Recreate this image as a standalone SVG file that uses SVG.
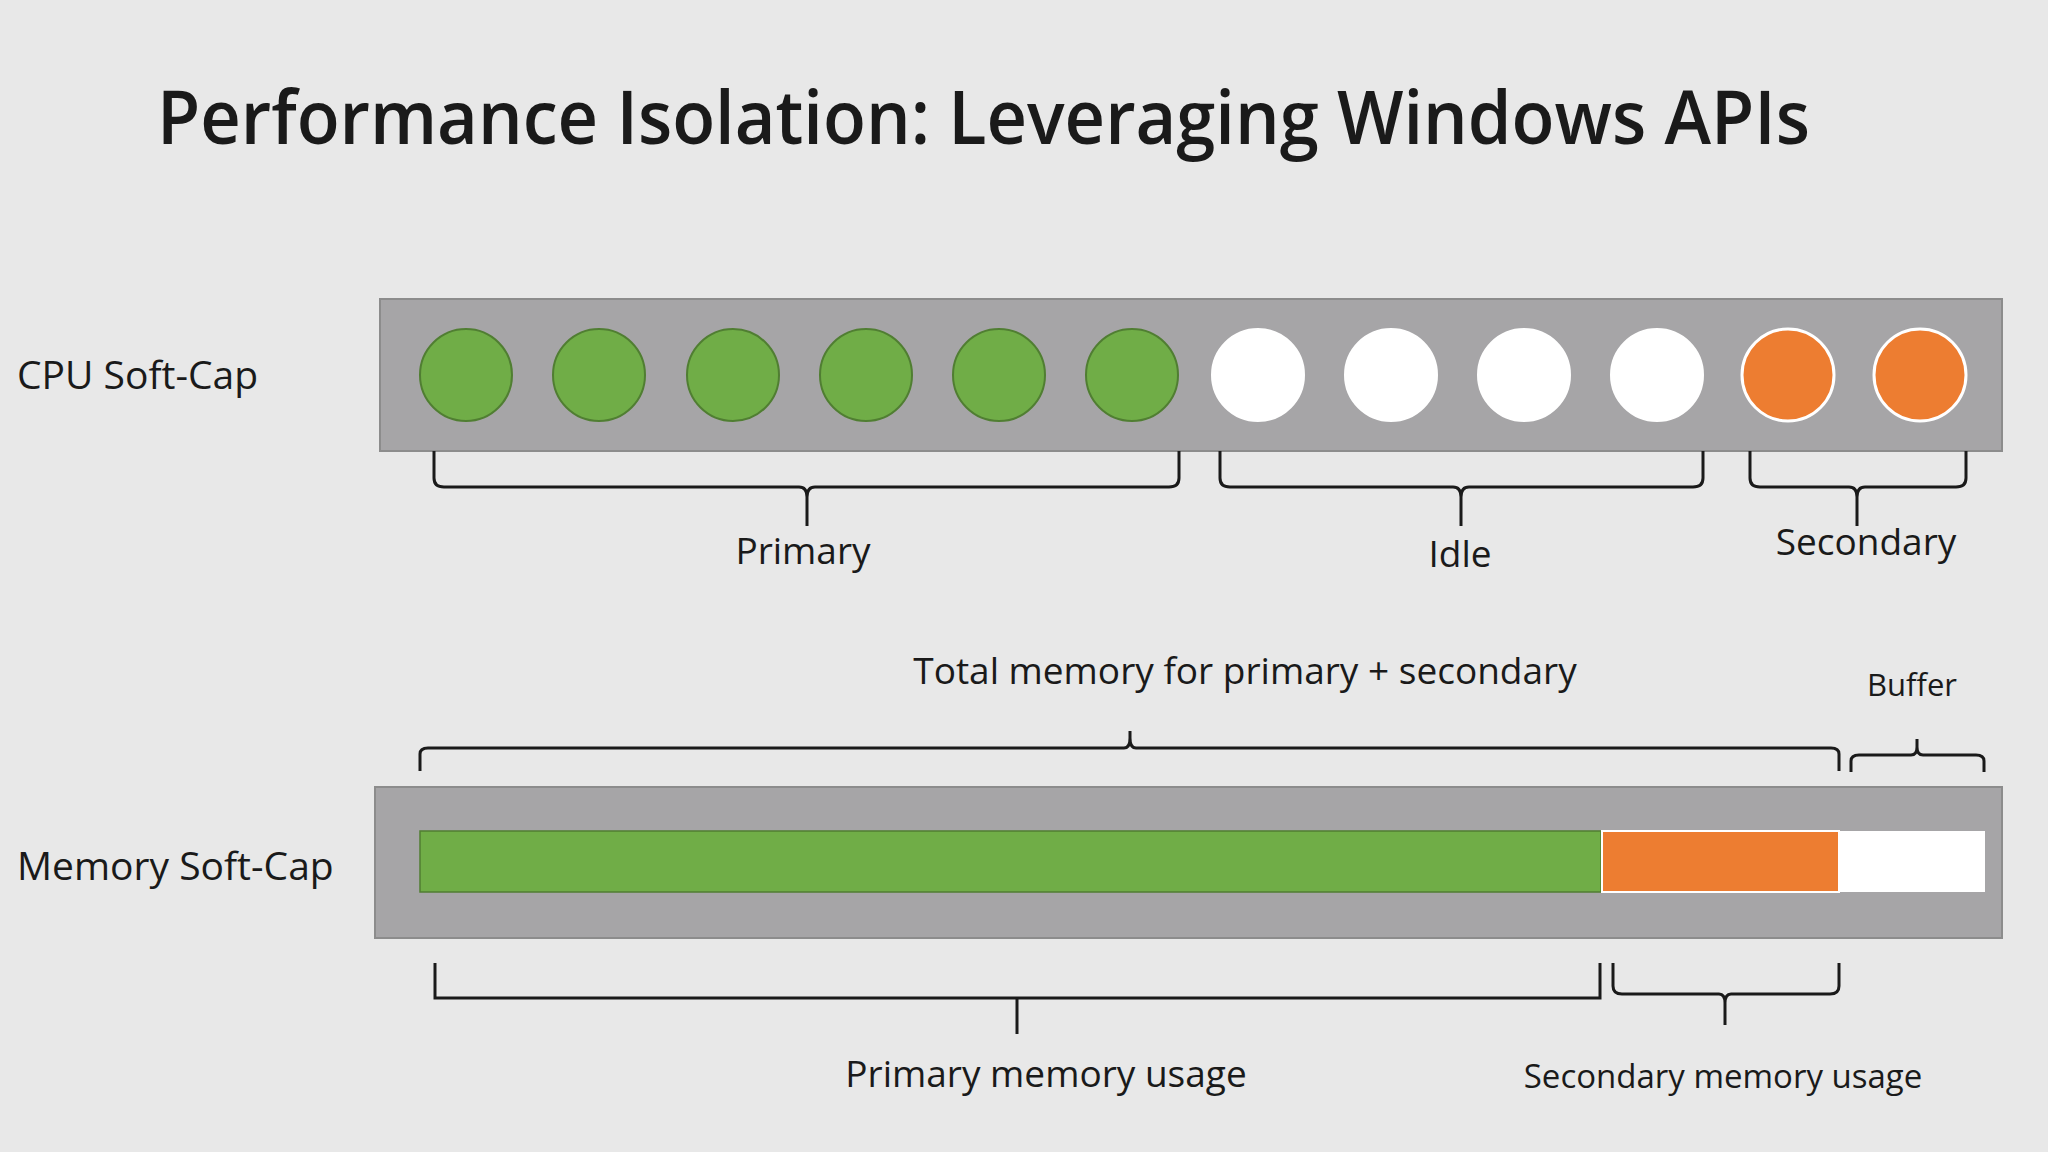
<svg xmlns="http://www.w3.org/2000/svg" width="2048" height="1152" viewBox="0 0 2048 1152">
<style>
text{font-family:"Open Sans","Noto Sans","Liberation Sans",sans-serif;fill:#1a1a1a}
.bar{fill:#a6a5a7;stroke:#8c8c8c;stroke-width:2}
.g{fill:#70ad47;stroke:#507e32;stroke-width:2}
.w{fill:#fff;stroke:#fff;stroke-width:2}
.o{fill:#ed7d31;stroke:#fff;stroke-width:3}
.br{fill:none;stroke:#1a1a1a;stroke-width:3}
.lbl{font-size:37px;text-anchor:middle}
</style>
<rect width="2048" height="1152" fill="#e8e8e8"/>
<text x="157" y="144" textLength="1653" lengthAdjust="spacingAndGlyphs" style="font-size:74px;font-weight:600">Performance Isolation: Leveraging Windows APIs</text>
<text x="17" y="389" style="font-size:39px">CPU Soft-Cap</text>
<text x="17" y="880" style="font-size:39px">Memory Soft-Cap</text>
<g id="cpu">
<rect class="bar" x="380" y="299" width="1622" height="152"/>
<circle class="g" cx="466" cy="375" r="46"/><circle class="g" cx="599" cy="375" r="46"/><circle class="g" cx="733" cy="375" r="46"/><circle class="g" cx="866" cy="375" r="46"/><circle class="g" cx="999" cy="375" r="46"/><circle class="g" cx="1132" cy="375" r="46"/>
<circle class="w" cx="1258" cy="375" r="46"/><circle class="w" cx="1391" cy="375" r="46"/><circle class="w" cx="1524" cy="375" r="46"/><circle class="w" cx="1657" cy="375" r="46"/>
<circle class="o" cx="1788" cy="375" r="46"/><circle class="o" cx="1920" cy="375" r="46"/>
</g>
<g id="mem">
<rect class="bar" x="375" y="787" width="1627" height="151"/>
<rect x="420" y="831" width="1181" height="61" fill="#70ad47" stroke="#507e32" stroke-width="1.5"/>
<rect x="1602" y="831" width="237" height="61" fill="#ed7d31" stroke="#fff" stroke-width="2"/>
<rect x="1840" y="831" width="145" height="61" fill="#fff"/>
</g>
<g id="connectors">
<path class="br" d="M434,451 V478 Q434,487 444,487 H799 Q807,487 807,497 V526 M807,497 Q807,487 815,487 H1169 Q1179,487 1179,478 V451"/>
<path class="br" d="M1220,451 V478 Q1220,487 1230,487 H1453 Q1461,487 1461,497 V526 M1461,497 Q1461,487 1469,487 H1693 Q1703,487 1703,478 V451"/>
<path class="br" d="M1750,451 V478 Q1750,487 1760,487 H1849 Q1857,487 1857,497 V526 M1857,497 Q1857,487 1865,487 H1956 Q1966,487 1966,478 V451"/>
<path class="br" d="M420,771 V754 Q420,748 428,748 H1124 Q1130,748 1130,738 V731 M1130,738 Q1130,748 1136,748 H1831 Q1839,748 1839,754 V771"/>
<path class="br" d="M1851,772 V761 Q1851,755 1859,755 H1911 Q1917,755 1917,747 V739 M1917,747 Q1917,755 1923,755 H1976 Q1984,755 1984,761 V772"/>
<path class="br" d="M435,963 V998 H1600 V963 M1017,998 V1034"/>
<path class="br" d="M1613,963 V986 Q1613,994 1622,994 H1719 Q1725,994 1725,1003 V1025 M1725,1003 Q1725,994 1731,994 H1830 Q1839,994 1839,986 V963"/>
</g>
<text class="lbl" x="803" y="564">Primary</text>
<text class="lbl" x="1460" y="567">Idle</text>
<text class="lbl" x="1866" y="555">Secondary</text>
<text class="lbl" x="1245" y="684">Total memory for primary + secondary</text>
<text class="lbl" x="1912" y="696" style="font-size:31px">Buffer</text>
<text class="lbl" x="1046" y="1087">Primary memory usage</text>
<text class="lbl" x="1723" y="1088" style="font-size:33px">Secondary memory usage</text>
</svg>
